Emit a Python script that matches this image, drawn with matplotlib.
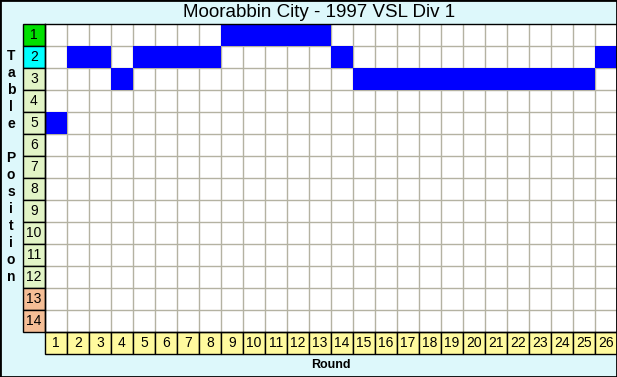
import matplotlib
matplotlib.use('Agg')
import matplotlib.pyplot as plt
from matplotlib.patches import Rectangle
import numpy as np

title = "Moorabbin City - 1997 VSL Div 1"
rounds = list(range(1, 27))
positions = [5, 2, 2, 3, 2, 2, 2, 2, 1, 1, 1, 1, 1, 2, 3, 3, 3, 3, 3, 3, 3, 3, 3, 3, 3, 2]
table_positions = list(range(1, 15))
position_colors = ['#00E000', '#00FFFF'] + ['#E2F4C6'] * 10 + ['#F5BE96'] * 2
xlabel = "Round"
ylabel = "Table Position"

W, H = 617, 377
BG = '#DDF8FB'
FONT = 'Liberation Sans'

fig = plt.figure(figsize=(W / 100, H / 100), dpi=100, facecolor=BG)
ax = fig.add_axes([45 / W, 1 - 332 / H, (617 - 45) / W, (332 - 24) / H])
ax.set_xlim(0.5, len(rounds) + 0.5)
ax.set_ylim(len(table_positions) + 0.5, 0.5)
ax.set_facecolor('white')

# grid lines
ax.vlines(np.arange(1.5, len(rounds) + 0.5, 1), 0.5, len(table_positions) + 0.5,
          color='#B4B2A2', lw=1, zorder=1)
ax.hlines(np.arange(1.5, len(table_positions) + 0.5, 1), 0.5, len(rounds) + 0.5,
          color='#B4B2A2', lw=1, zorder=1)

# position bars
ax.bar(rounds, 1, bottom=np.array(positions) - 0.5, width=1,
       color='#0000FF', linewidth=0, zorder=3)

# position label column
for p, c in zip(table_positions, position_colors):
    ax.add_patch(Rectangle((-0.5, p - 0.5), 1, 1, facecolor=c, edgecolor='black',
                           lw=1, clip_on=False, zorder=4))
    ax.text(0, p + 0.02, str(p), ha='center', va='center', fontsize=10,
            family=FONT, clip_on=False, zorder=5)

# round label row
ybot = len(table_positions) + 0.5
for r in rounds:
    ax.add_patch(Rectangle((r - 0.5, ybot), 1, 1, facecolor='#FFFA9E', edgecolor='black',
                           lw=1, clip_on=False, zorder=4))
    ax.text(r, ybot + 0.52, str(r), ha='center', va='center', fontsize=10,
            family=FONT, clip_on=False, zorder=5)

ax.set_xticks([])
ax.set_yticks([])
for s in ax.spines.values():
    s.set_color('black')
    s.set_linewidth(1)
    s.set_zorder(6)

# title & axis labels
fig.text(319 / W, 1 - 12.5 / H, title, ha='center', va='center',
         fontsize=13.5, family=FONT)
fig.text((45 + 617) / 2 / W, 1 - 365 / H, xlabel, ha='center', va='center',
         fontsize=9, family=FONT, fontweight='bold')
for i, ch in enumerate(ylabel):
    if ch == ' ':
        continue
    fig.text(11 / W, 1 - (56 + 17 * i) / H, ch, ha='center', va='center',
             fontsize=10, family=FONT, fontweight='bold')

fig.patches.append(Rectangle((0, 0), 1, 1, transform=fig.transFigure, fill=False,
                             edgecolor='black', lw=2, figure=fig))

fig.savefig('out.png', dpi=100, facecolor=BG)
